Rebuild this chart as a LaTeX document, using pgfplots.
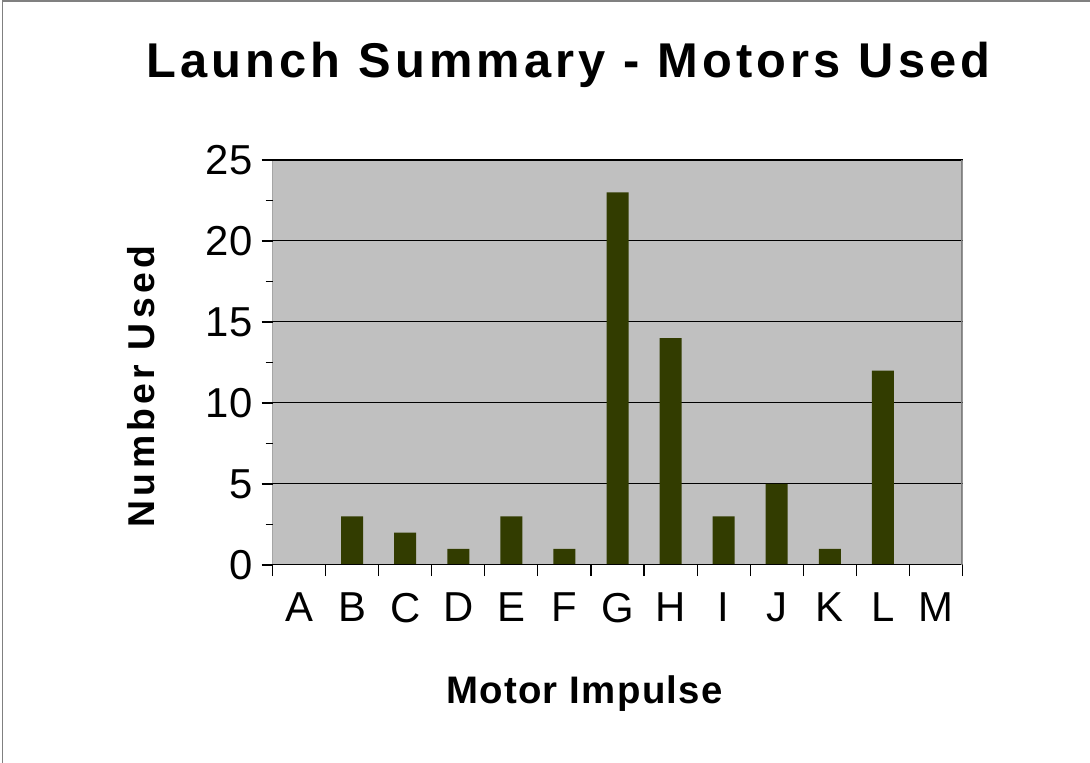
\documentclass[border=0pt]{standalone}
\usepackage{fontspec}
\setmainfont{Liberation Sans}
\usepackage{pgfplots}
\pgfplotsset{compat=1.18}
\definecolor{barcol}{RGB}{50,60,0}
\definecolor{plotbg}{RGB}{192,192,192}
\definecolor{frame}{RGB}{128,128,128}
\begin{document}
\begin{tikzpicture}
\useasboundingbox (0,0) rectangle (1090bp,763bp);
\draw[frame, line width=1.5bp] (2.7bp,0) -- (2.7bp,762.2bp) -- (1090bp,762.2bp);
\begin{axis}[
  at={(272.5bp,198bp)}, anchor=south west,
  scale only axis, width=690bp, height=405bp,
  xmin=-0.5, xmax=12.5, ymin=0, ymax=25,
  axis line style={draw=none},
  axis background/.style={fill=plotbg},
  ybar, bar width=22bp,
  xtick={-0.5,0.5,...,12.5},
  x tick label as interval,
  xticklabels={A,B,C,D,E,F,G,H,I,J,K,L,M},
  x tick style={black, line width=1.2bp},
  ytick={0,5,...,25},
  minor y tick num=1,
  tick align=outside, tick pos=left,
  major tick length=11bp, minor tick length=7bp,
  y tick style={black, line width=1.2bp},
  ymajorgrids, major grid style={black, line width=1bp},
  /pgf/number format/assume math mode=true,
  ticklabel style={font=\fontsize{42}{48}\selectfont},
  yticklabel style={inner sep=0pt, xshift=-9bp},
  xticklabel style={inner sep=0pt, yshift=-17bp},
]
\addplot[fill=barcol, draw=none] coordinates {
(0,0) (1,3) (2,2) (3,1) (4,3) (5,1) (6,23) (7,14) (8,3) (9,5) (10,1) (11,12) (12,0)};
\draw[black, line width=1.5bp] (rel axis cs:0,0) -- (rel axis cs:0,1);
\draw[black, line width=1.5bp] (rel axis cs:0,0) -- (rel axis cs:1,0);
\draw[black, line width=1.5bp] (rel axis cs:0,1) -- (rel axis cs:1,1);
\draw[frame, line width=3bp] (rel axis cs:1,0) -- (rel axis cs:1,1);
\end{axis}
\node[anchor=base, inner sep=0pt] at (568.5bp,685.3bp)
  {\fontsize{49}{58}\selectfont\bfseries\addfontfeature{LetterSpace=8.5}Launch Summary - Motors Used};
\node[anchor=base, inner sep=0pt] at (584.5bp,59.7bp)
  {\fontsize{38.5}{46}\selectfont\bfseries\addfontfeature{LetterSpace=3.5}Motor Impulse};
\node[anchor=base, inner sep=0pt, rotate=90] at (154.3bp,376.5bp)
  {\fontsize{37.5}{46}\selectfont\bfseries\addfontfeature{LetterSpace=11.5}Number Used};
\end{tikzpicture}
\end{document}
